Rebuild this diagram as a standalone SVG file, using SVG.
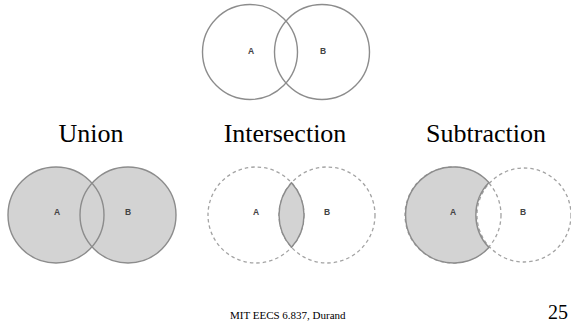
<svg xmlns="http://www.w3.org/2000/svg" width="571" height="334" viewBox="0 0 571 334">
  <style>
    .outline { fill: none; stroke: #8c8c8c; stroke-width: 1.4; }
    .shade { fill: #d3d3d3; stroke: none; }
    .region { fill: #d3d3d3; stroke: #8c8c8c; stroke-width: 1.4; }
    .dashed { fill: none; stroke: #a3a3a3; stroke-width: 1.3; stroke-dasharray: 3.5 3; }
    .set { font-family: "Liberation Sans", Arial, sans-serif; font-size: 8.5px; font-weight: bold; fill: #444; text-anchor: middle; }
    .heading { font-family: "Liberation Serif", "Times New Roman", serif; font-size: 26px; fill: #000; text-anchor: middle; }
    .foot { font-family: "Liberation Serif", "Times New Roman", serif; fill: #000; }
  </style>

  <rect width="571" height="334" fill="#fff"/>

  <!-- two overlapping sets -->
  <g id="sets">
    <circle class="outline" cx="250" cy="52" r="47.5"/>
    <circle class="outline" cx="322" cy="52" r="47.5"/>
    <text class="set" x="251" y="54">A</text>
    <text class="set" x="323" y="54">B</text>
  </g>

  <!-- union: both discs shaded, both outlines drawn on top -->
  <g id="union">
    <text class="heading" x="91" y="142">Union</text>
    <circle class="shade" cx="56" cy="215" r="48"/>
    <circle class="shade" cx="128" cy="215" r="48"/>
    <circle class="outline" cx="56" cy="215" r="48"/>
    <circle class="outline" cx="128" cy="215" r="48"/>
    <text class="set" x="57" y="215">A</text>
    <text class="set" x="128" y="215">B</text>
  </g>

  <!-- intersection: dashed discs, shaded lens -->
  <g id="intersection">
    <text class="heading" x="285" y="142">Intersection</text>
    <circle class="dashed" cx="256" cy="215" r="48"/>
    <circle class="dashed" cx="327" cy="215" r="48"/>
    <path class="region" d="M291.5 182.7 A48 48 0 0 1 291.5 247.3 A48 48 0 0 1 291.5 182.7 Z"/>
    <text class="set" x="256" y="215">A</text>
    <text class="set" x="327" y="215">B</text>
  </g>

  <!-- subtraction: dashed discs, shaded crescent A minus B -->
  <g id="subtraction">
    <text class="heading" x="486" y="142">Subtraction</text>
    <circle class="dashed" cx="453" cy="215" r="48"/>
    <circle class="dashed" cx="524" cy="215" r="47"/>
    <path class="region" d="M488.9 182.5 A48 48 0 1 0 488.9 247.5 A47 47 0 0 1 488.9 182.5 Z"/>
    <text class="set" x="453" y="215">A</text>
    <text class="set" x="523" y="215">B</text>
  </g>

  <!-- footer -->
  <g id="footer">
    <text class="foot" x="230" y="319" font-size="11">MIT EECS 6.837, Durand</text>
    <text class="foot" x="568" y="319" font-size="20" text-anchor="end">25</text>
  </g>
</svg>
